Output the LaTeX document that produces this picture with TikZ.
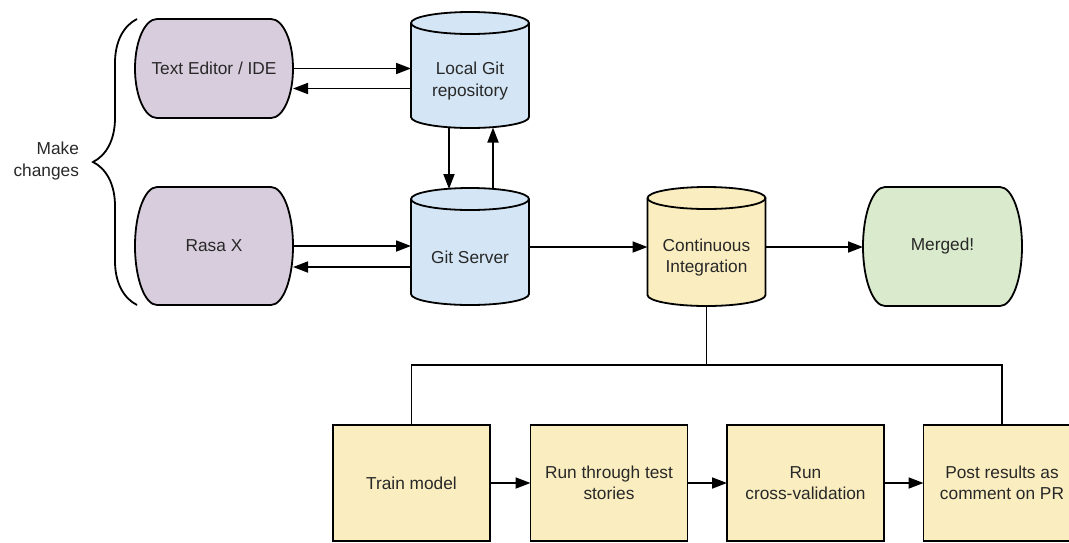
\documentclass[tikz,border=0pt]{standalone}
\usepackage{fontspec}
\setmainfont{Liberation Sans}
\usetikzlibrary{arrows.meta,calc,decorations.pathreplacing}
\pgfdeclarelayer{background}
\pgfsetlayers{background,main}
\definecolor{purp}{RGB}{216,205,220}
\definecolor{blu}{RGB}{212,230,245}
\definecolor{yel}{RGB}{250,238,192}
\definecolor{grn}{RGB}{218,234,204}
\definecolor{txt}{RGB}{40,40,40}
\def\cylrx{59}
\def\cylry{11}
\def\termb{22}
\tikzset{
  lbl/.style={font=\fontsize{17.3}{21.5}\selectfont, text=txt, align=center, inner sep=0pt, outer sep=0pt},
  term/.style={lbl, minimum width=158, minimum height=99},
  cyl/.style={lbl, minimum width=118},
  stepbox/.style={lbl, draw=black, fill=yel, line width=1.8pt, minimum width=157, minimum height=116},
  shapeline/.style={draw=black, line width=1.8pt},
  arr/.style={draw=black, line width=1.8pt, -{Triangle[length=15pt,width=11pt]}},
  link/.style={draw=black, line width=1.8pt},
}
\newcommand\cylshape[2]{%
  \begin{pgfonlayer}{background}
  \path[shapeline, fill=#2] ($(#1.north west)+(0,\cylry)$) -- ($(#1.south west)+(0,\cylry)$)
     arc[start angle=180,end angle=360,x radius=\cylrx,y radius=\cylry]
     -- ($(#1.north east)+(0,\cylry)$)
     arc[start angle=0,end angle=180,x radius=\cylrx,y radius=\cylry] -- cycle;
  \draw[shapeline] ($(#1.north west)+(0,\cylry)$)
     arc[start angle=180,end angle=360,x radius=\cylrx,y radius=\cylry];
  \end{pgfonlayer}}
\newcommand\termshape[3]{%
  \begin{pgfonlayer}{background}
  \path[shapeline, fill=#2] ($(#1.north west)+(\termb,0)$) -- ($(#1.north east)+(-\termb,0)$)
     arc[start angle=90,end angle=-90,x radius=\termb,y radius=#3]
     -- ($(#1.south west)+(\termb,0)$)
     arc[start angle=270,end angle=90,x radius=\termb,y radius=#3] -- cycle;
  \end{pgfonlayer}}
\begin{document}
\begin{tikzpicture}[x=1pt,y=1pt]
\useasboundingbox (0,0) rectangle (1069,-542);
\clip (0,0) rectangle (1069,-542);

% nodes
\node[term, minimum height=99] (ed) at (214,-68.5) {Text Editor / IDE};
\node[term, minimum height=118] (rasa) at (214,-246) {Rasa X};
\node[cyl, minimum height=94] (local) at (470,-81) {Local Git\\repository};
\node[cyl, minimum height=95] (server) at (470,-257.5) {Git Server};
\node[cyl, minimum height=97] (ci) at (706.5,-257.5) {Continuous\\Integration};
\node[term, minimum width=159, minimum height=119] (merged) at (942.5,-246.5) {Merged!};
\node[stepbox] (train) at (411.5,-483) {Train model};
\node[stepbox] (run) at (609,-483) {Run through test\\stories};
\node[stepbox] (cv) at (805.5,-483) {Run\\cross-validation};
\node[stepbox] (post) at (1002,-483) {Post results as\\comment on PR};
\node[lbl, anchor=east, align=right] (mk) at (79,-161) {Make\\changes};

% shapes
\termshape{ed}{purp}{49.5}
\termshape{rasa}{purp}{59}
\termshape{merged}{grn}{59.5}
\cylshape{local}{blu}
\cylshape{server}{blu}
\cylshape{ci}{yel}

% brace
\draw[line width=1.8pt, decorate, decoration={brace, amplitude=44}]
  ($(rasa.south west)+(2,0)$) -- ($(ed.north west)+(2,0)$);

% connectors
\draw[arr] (ed.east) -- (ed.east -| local.west);
\draw[arr] ($(ed.east -| local.west)+(0,-20)$) -- ($(ed.east)+(0,-20)$);
\draw[arr] (rasa.east) -- (rasa.east -| server.west);
\draw[arr] ($(rasa.east -| server.west)+(0,-21)$) -- ($(rasa.east)+(0,-21)$);
\draw[arr] ($(local.south)+(-21,0)$) -- ($(server.north)+(-21,21)$);
\draw[arr] ($(server.north)+(23,21)$) -- ($(local.south)+(23,0.5)$);
\draw[arr] ($(server.east)+(0,10.5)$) -- ($(server.east -| ci.west)+(0,10.5)$);
\draw[arr] ($(ci.east)+(0,10.5)$) -- ($(ci.east -| merged.west)+(0,10.5)$);
\coordinate (bus) at ($(ci.south)+(0,-59)$);
\draw[link] (ci.south) -- (bus);
\draw[link] (train.north) |- (bus) -| (post.north);
\draw[arr] (train.east) -- (run.west);
\draw[arr] (run.east) -- (cv.west);
\draw[arr] (cv.east) -- (post.west);
\end{tikzpicture}
\end{document}
